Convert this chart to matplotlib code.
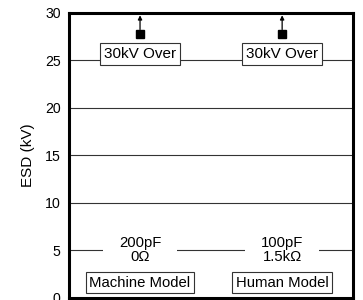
import matplotlib
matplotlib.use("Agg")
import matplotlib.pyplot as plt

plt.rcParams['font.family'] = ['Liberation Sans', 'DejaVu Sans']

categories = ['Machine Model', 'Human Model']
esd_kv = [27.8, 27.8]
over_labels = ['30kV Over', '30kV Over']
conditions = ['200pF\n0Ω', '100pF\n1.5kΩ']
yticks = [0, 5, 10, 15, 20, 25, 30]

fig = plt.figure(figsize=(3.63, 3.00), dpi=100)
ax = fig.add_axes([0.190, 0.007, 0.783, 0.950])
ax.set_xlim(-0.5, 1.5)
ax.set_ylim(0, 30)
ax.set_yticks(yticks)
ax.set_xticks([])
ax.tick_params(axis='y', length=0, labelsize=10.2, pad=6)
for s in ax.spines.values():
    s.set_linewidth(2.2)
    s.set_color('black')
ax.set_ylabel('ESD (kV)', fontsize=11, labelpad=7)

for y in yticks[1:-1]:
    ax.axhline(y, color='#333333', lw=0.8, zorder=1)

xs = range(len(categories))
ax.plot(list(xs), esd_kv, linestyle='none', marker='s', color='black',
        markersize=6, zorder=5, clip_on=False)
for x, v, lab, cond, cat in zip(xs, esd_kv, over_labels, conditions, categories):
    ax.annotate('', xy=(x, 29.75), xytext=(x, v + 0.45),
                arrowprops=dict(arrowstyle='-|>', color='black', lw=0.9,
                                mutation_scale=6, shrinkA=0, shrinkB=0), zorder=5)
    ax.text(x, 25.7, lab, ha='center', va='center', fontsize=11, zorder=6,
            bbox=dict(boxstyle='square,pad=0.25', fc='white', ec='#333333', lw=0.8))
    ax.text(x, 5, cond, ha='center', va='center', fontsize=10.7, zorder=6,
            linespacing=1.0,
            bbox=dict(boxstyle='square,pad=1.05', fc='white', ec='none'))
    ax.text(x, 1.6, cat, ha='center', va='center', fontsize=10.7, zorder=7,
            bbox=dict(boxstyle='square,pad=0.22', fc='white', ec='#333333', lw=0.8))

fig.savefig('out.png', dpi=100)
